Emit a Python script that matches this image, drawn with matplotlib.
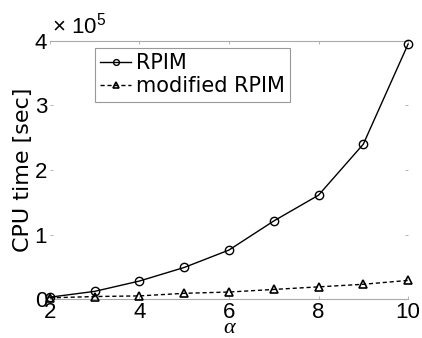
import matplotlib.pyplot as plt
from matplotlib.ticker import FuncFormatter

plt.rcParams['font.family'] = ['Liberation Sans', 'DejaVu Sans']
plt.rcParams['mathtext.default'] = 'regular'

alpha = [2, 3, 4, 5, 6, 7, 8, 9, 10]
rpim = [3000, 12000, 28000, 49000, 76000, 121000, 161000, 240000, 395000]
mod_rpim = [2000, 4000, 5000, 9000, 11000, 15000, 19000, 23000, 29000]
xticks = [2, 4, 6, 8, 10]
yticks = [0, 100000, 200000, 300000, 400000]

fig = plt.figure(figsize=(4.22, 3.38), dpi=100)
ax = fig.add_axes([0.118, 0.115, 0.849, 0.764])

ax.plot(alpha, rpim, '-o', color='black', lw=1, ms=6, mfc='none', mew=1,
        label='RPIM', clip_on=False, zorder=3)
ax.plot(alpha, mod_rpim, '--^', color='black', lw=1, ms=6, mfc='none', mew=1.2,
        dashes=(3, 2), label='modified RPIM', clip_on=False, zorder=3)

ax.set_xlim(2, 10)
ax.set_ylim(0, 400000)
ax.set_xticks(xticks)
ax.set_yticks(yticks)
ax.yaxis.set_major_formatter(FuncFormatter(lambda v, p: f'{v / 1e5:g}'))

for s in ['left', 'right']:
    ax.spines[s].set_visible(False)
for s in ['top', 'bottom']:
    ax.spines[s].set_color('#aaaaaa')

ax.tick_params(direction='in', length=2, width=0.6, colors='#aaaaaa',
               labelcolor='black', labelsize=16, top=True, right=True, pad=2)

ax.text(0.005, 1.008, r'× 10$^{5}$', transform=ax.transAxes, fontsize=16,
        va='bottom', ha='left')

ax.set_xlabel('α', fontsize=16, family='Liberation Serif', style='italic', labelpad=-3)
ax.set_ylabel('CPU time [sec]', fontsize=16, family='DejaVu Sans', labelpad=1)

leg = ax.legend(loc='upper left', bbox_to_anchor=(0.126, 0.972),
                prop={'family': 'DejaVu Sans', 'size': 15},
                handlelength=1.5, handletextpad=0.2, borderpad=0.25,
                labelspacing=0.15, borderaxespad=0, markerscale=0.7,
                fancybox=False, framealpha=1)
leg.get_frame().set_edgecolor('#999999')
leg.get_frame().set_linewidth(0.8)

fig.savefig('out.png', dpi=100)
